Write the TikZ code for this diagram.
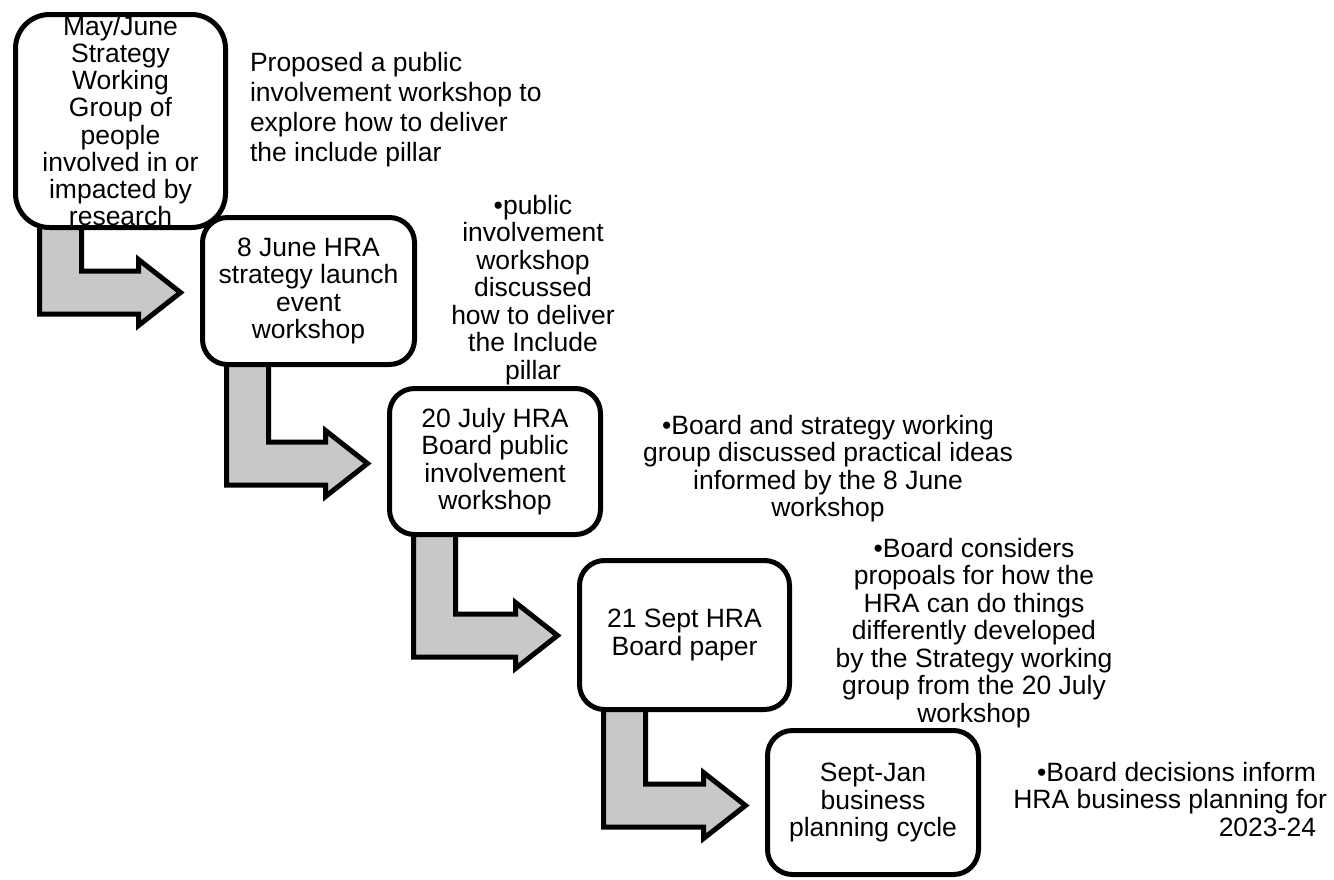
\documentclass[tikz,border=0pt]{standalone}
\usepackage{fontspec}
\setmainfont{Liberation Sans}
\usetikzlibrary{calc,backgrounds}
\definecolor{arrowgray}{RGB}{200,200,200}
\newcommand{\bentarrow}[2]{%
  \coordinate (#1L) at ($(#1.south west)+(24,-10)$);
  \coordinate (#1R) at ($(#1.south west)+(66,-10)$);
  \coordinate (#2bt) at ($(#2.north west)+(-64,53.5)$);
  \coordinate (#2bb) at ($(#2.north west)+(-64,96.5)$);
  \coordinate (#2ht) at ($(#2.north west)+(-64,42)$);
  \coordinate (#2hb) at ($(#2.north west)+(-64,108)$);
  \coordinate (#2tip) at ($(#2.north west)+(-22,75)$);
  \draw[bent] (#1L) -- (#1L |- #2bb) -- (#2bb) -- (#2hb) -- (#2tip)
    -- (#2ht) -- (#2bt) -- (#1R |- #2bt) -- (#1R) -- cycle;
}
\begin{document}
\begin{tikzpicture}[x=1pt,y=-1pt,
  box/.style={draw=black, line width=5pt, fill=white, rounded corners=25pt,
    align=center, inner sep=0pt, outer sep=0pt,
    font=\fontsize{26.5}{27.5}\selectfont},
  bent/.style={draw=black, line width=5pt, fill=arrowgray, line join=miter},
  note/.style={inner sep=0pt, outer sep=0pt,
    font=\fontsize{26.5}{27.5}\selectfont}
]
\useasboundingbox (0,0) rectangle (1334,879);

\node[box, minimum width=210pt, minimum height=213pt, rounded corners=34pt,
  font=\fontsize{26.5}{27.2}\selectfont] (b1) at (120.5,121)
  {May/June\\Strategy\\Working\\Group of\\people\\involved in or\\impacted by\\research};
\node[box, minimum width=212pt, minimum height=147pt] (b2) at (308.5,291)
  {8 June HRA\\strategy launch\\event\\workshop};
\node[box, minimum width=211pt, minimum height=146pt] (b3) at (495,461.5)
  {20 July HRA\\Board public\\involvement\\workshop};
\node[box, minimum width=210pt, minimum height=149pt] (b4) at (684.5,635)
  {21 Sept HRA\\Board paper};
\node[box, minimum width=211pt, minimum height=144pt] (b5) at (873,802.5)
  {Sept-Jan\\business\\planning cycle};

\begin{pgfonlayer}{background}
\bentarrow{b1}{b2}
\bentarrow{b2}{b3}
\bentarrow{b3}{b4}
\bentarrow{b4}{b5}
\end{pgfonlayer}

\node[note, anchor=north west, align=left, font=\fontsize{26.5}{30}\selectfont] (t1) at (250,52)
  {Proposed a public\\involvement workshop to\\explore how to deliver\\the include pillar};
\node[note, anchor=north, align=center] (t2) at (533,195)
  {•public\\involvement\\workshop\\discussed\\how to deliver\\the Include\\pillar};
\node[note, anchor=north, align=center] (t3) at (828,415)
  {•Board and strategy working\\group discussed practical ideas\\informed by the 8 June\\workshop};
\node[note, anchor=north, align=center] (t4) at (974,538)
  {•Board considers\\propoals for how the\\HRA can do things\\differently developed\\by the Strategy working\\group from the 20 July\\workshop};
\node[note, anchor=north east, align=right] (t5) at (1327,762)
  {•Board decisions inform\hspace*{11pt}\\HRA business planning for\\2023-24\hspace*{11pt}};
\end{tikzpicture}
\end{document}
